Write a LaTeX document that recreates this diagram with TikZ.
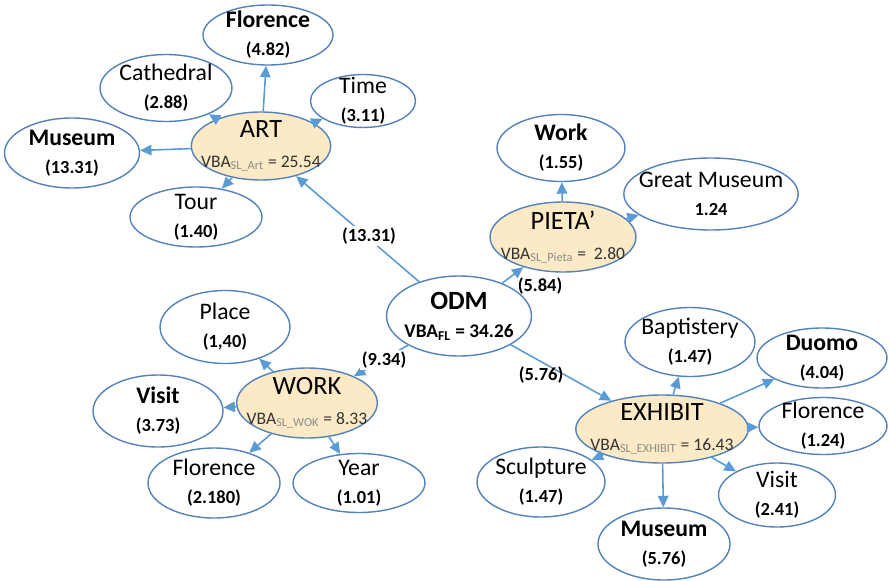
\documentclass[tikz,border=0pt]{standalone}
\usepackage{fontspec}
\setmainfont{Carlito}
\usetikzlibrary{shapes.geometric,arrows.meta}

\definecolor{rimblue}{RGB}{84,130,186}
\definecolor{linkblue}{RGB}{91,155,213}
\definecolor{hubfill}{RGB}{252,233,197}

\tikzset{
  word/.style={ellipse,draw=rimblue,line width=0.8pt,fill=white,inner xsep=-6pt,inner ysep=-3pt,
    align=center,font=\fontsize{13.5}{16}\selectfont,minimum width=2.6cm,minimum height=1.3cm},
  hub/.style={word,fill=hubfill,font=\fontsize{15}{17}\selectfont},
  link/.style={draw=linkblue,line width=0.9pt,-{Triangle[length=2.3mm,width=2.1mm]}},
  weight/.style={font=\bfseries\fontsize{10.5}{12}\selectfont,inner sep=1pt}
}
\newcommand{\val}[1]{{\bfseries\fontsize{10.5}{12}\selectfont #1}}
\newcommand{\vba}[2]{{\fontsize{10}{12}\selectfont\color{black!80}VBA\textsubscript{\color{black!45}#1} = #2}}

\begin{document}
\begin{tikzpicture}[x=0.02cm,y=-0.02cm]
\useasboundingbox (0,0) rectangle (889,581);

% ART group
\node[word,minimum width=2.6cm,minimum height=1.2cm] (florA) at (268,35) {\textbf{Florence}\\\val{(4.82)}};
\node[word,minimum width=2.64cm,minimum height=1.34cm] (cath) at (166,88) {Cathedral\\\val{(2.88)}};
\node[word,minimum width=2.1cm,minimum height=1.06cm] (time) at (363,101) {Time\\\val{(3.11)}};
\node[word,minimum width=2.7cm,minimum height=1.4cm] (museA) at (72,153) {\textbf{Museum}\\\val{(13.31)}};
\node[word,minimum width=2.64cm,minimum height=1.2cm] (tour) at (196,217) {Tour\\\val{(1.40)}};
\node[hub,minimum width=2.44cm,minimum height=1.36cm] (art) at (261,146) {ART\\\vba{SL\_Art}{25.54}};

% PIETA' group
\node[word,minimum width=2.56cm,minimum height=1.34cm] (work) at (561,148) {\textbf{Work}\\\val{(1.55)}};
\node[word,minimum width=3.42cm,minimum height=1.44cm] (gmus) at (711,194) {Great Museum\\\val{1.24}};
\node[hub,minimum width=2.4cm,minimum height=1.4cm] (pieta) at (563,237) {PIETA’\\\vba{SL\_Pieta}{ 2.80}};

% ODM
\node[word,minimum width=2.9cm,minimum height=1.6cm] (odm) at (459,316)
  {\fontsize{15}{17}\selectfont\bfseries ODM\\{\bfseries\fontsize{11}{12}\selectfont VBA\textsubscript{FL} = 34.26}};

% WORK group
\node[word,minimum width=2.6cm,minimum height=1.46cm] (place) at (225,327) {Place\\\val{(1,40)}};
\node[word,minimum width=2.6cm,minimum height=1.44cm] (visW) at (158,411) {\textbf{Visit}\\\val{(3.73)}};
\node[word,minimum width=2.64cm,minimum height=1.4cm] (florW) at (214,483) {Florence\\\val{(2.180)}};
\node[word,minimum width=2.64cm,minimum height=1.18cm] (year) at (359,483) {Year\\\val{(1.01)}};
\node[hub,minimum width=2.66cm,minimum height=1.4cm] (wrk) at (307,403) {WORK\\\vba{SL\_WOK}{8.33}};

% EXHIBIT group
\node[word,minimum width=2.6cm,minimum height=1.38cm] (bapt) at (690,342) {Baptistery\\\val{(1.47)}};
\node[word,minimum width=2.6cm,minimum height=1.2cm] (duomo) at (822,358) {\textbf{Duomo}\\\val{(4.04)}};
\node[word,minimum width=2.56cm,minimum height=1.14cm] (florE) at (823,426) {Florence\\\val{(1.24)}};
\node[word,minimum width=2.34cm,minimum height=1.28cm] (visE) at (777,495) {Visit\\\val{(2.41)}};
\node[word,minimum width=2.64cm,minimum height=1.44cm] (museE) at (664,544) {\textbf{Museum}\\\val{(5.76)}};
\node[word,minimum width=2.56cm,minimum height=1.4cm] (sculp) at (541,482) {Sculpture\\\val{(1.47)}};
\node[hub,minimum width=2.98cm,minimum height=1.36cm] (exh) at (662,429) {EXHIBIT\\\vba{SL\_EXHIBIT}{16.43}};

% links from the hubs
\foreach \t in {florA,cath,time,museA,tour}
  \draw[link] (art) -- (\t);
\foreach \t in {work,gmus}
  \draw[link] (pieta) -- (\t);
\foreach \t in {place,visW,florW,year}
  \draw[link] (wrk) -- (\t);
\foreach \t in {bapt,duomo,florE,visE,museE,sculp}
  \draw[link] (exh) -- (\t);

% links from ODM
\foreach \t in {art,pieta,wrk,exh}
  \draw[link] (odm) -- (\t);

% weights
\node[weight,fill=white] (wArt) at (369,236) {(13.31)};
\node[weight] (wPieta) at (540,286) {(5.84)};
\node[weight,fill=white] (wWork) at (384,360) {(9.34)};
\node[weight] (wExh) at (541,375) {(5.76)};

\end{tikzpicture}
\end{document}
